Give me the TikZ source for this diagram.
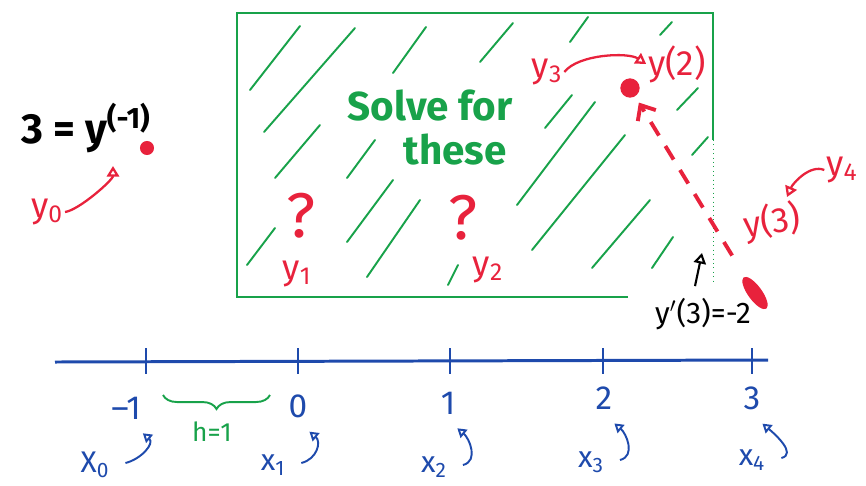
\documentclass[tikz,border=0pt]{standalone}
\usepackage{fontspec}
\setmainfont{Fira Sans}
\usetikzlibrary{positioning,arrows.meta,shapes.geometric,decorations.pathreplacing}

\definecolor{penred}{RGB}{232,34,60}
\definecolor{pengreen}{RGB}{24,162,74}
\definecolor{penblue}{RGB}{30,74,172}

\begin{document}
\begin{tikzpicture}[x=0.02cm,y=-0.02cm,
    redlab/.style={text=penred, font=\fontsize{20}{24}\selectfont, inner sep=1pt},
    bluelab/.style={text=penblue, font=\fontsize{17}{20}\selectfont, inner sep=1pt},
    hatch/.style={pengreen, line width=1.1pt, line cap=round},
    curly/.style={penblue, line width=1.1pt, -{Triangle[open,length=5pt,width=6pt]}},
    redarr/.style={penred, line width=1.3pt, -{Triangle[open,length=6pt,width=7pt]}},
    reddot/.style={circle, fill=penred, inner sep=0pt, minimum size=#1}]
  \useasboundingbox (0,0) rectangle (866,485);

  % region to solve for
  \draw[pengreen, line width=1.1pt] (628,297) -- (237,297) -- (237,13) -- (713,13) -- (713,140);
  \draw[pengreen, line width=0.5pt, dotted] (713,140) -- (713,282);
  \foreach \a/\b/\c/\d in {250/90/300/26, 264/132/355/28, 393/73/426/27, 275/178/320/125,
      347/178/375/140, 480/62/513/23, 570/42/588/17, 660/35/672/22, 545/128/572/95,
      517/205/595/102, 532/250/625/135, 592/268/650/200, 652/268/673/237, 677/110/698/88,
      692/155/708/137, 247/265/275/228, 347/242/393/180, 367/277/420/200, 448/285/458/265}
    \draw[hatch] (\a,\b) -- (\c,\d);
  \node[text=pengreen, font=\fontsize{23}{27}\selectfont\bfseries] (solve) at (430,105) {Solve for};
  \node[text=pengreen, font=\fontsize{23}{27}\selectfont\bfseries] (these) at (455,150) {these};

  % x axis
  \draw[penblue, line width=1.7pt] (55,362) -- (768,360);
  \foreach \t/\n/\nx/\ny/\l/\lx/\ly/\i in {146/--1/126/408/X/95/465/0, 298/0/298/406/x/273/465/1,
      450/1/448/403/x/434/467/2, 603/2/604/398/x/591/462/3, 752/3/752/398/x/752/460/4} {
    \draw[penblue, line width=1.3pt] (\t,348) -- (\t,374);
    \node[bluelab, font=\fontsize{19}{22}\selectfont] (num\i) at (\nx,\ny) {\n};
    \node[bluelab] (xl\i) at (\lx,\ly) {\l\textsubscript{\i}};
    \draw[curly] ([shift={(14,-2)}]xl\i.east) .. controls +(16,-4) and +(12,10) .. ([shift={(0,12)}]num\i.south east);
  }
  \draw[pengreen, line width=1.1pt, decorate, decoration={brace, mirror, amplitude=8pt}] (163,395) -- (270,395);
  \node[text=pengreen, font=\fontsize{15}{18}\selectfont] (h) at (212,432) {h=1};

  % known values
  \node[font=\fontsize{24}{28}\selectfont\bfseries, inner sep=1pt] (ym1) at (86,128) {3 = y\textsuperscript{(-1)}};
  \node[reddot=8pt] (dot0) at (147,148) {};
  \node[redlab] (y0) at (47,212) {y\textsubscript{0}};
  \coordinate (y0tip) at (113,166);
  \draw[redarr] (y0.east) .. controls +(14,-2) and +(0,14) .. (y0tip);

  \node[reddot=11pt] (dot2) at (630,88) {};
  \node[redlab] (ytwo) at (677,64) {y(2)};
  \node[redlab] (y3) at (547,72) {y\textsubscript{3}};
  \draw[redarr] (y3.east) .. controls +(14,-18) and +(-18,-12) .. (ytwo.west);

  \node[ellipse, fill=penred, inner sep=0pt, minimum width=22pt, minimum height=8pt, rotate=-54] (dot3) at (755,293) {};
  \node[redlab, rotate=8] (ythree) at (772,222) {y(3)};
  \node[redlab] (y4) at (842,170) {y\textsubscript{4}};
  \coordinate (y4tip) at (787,197);
  \draw[redarr] (y4.west) .. controls +(-14,-6) and +(6,-14) .. (y4tip);
  \draw[penred, line width=2.2pt, dash pattern=on 9pt off 7pt, shorten <=14pt, shorten >=4pt,
    -{Straight Barb[length=7pt,width=12pt]}] (dot3) -- (dot2);

  % unknowns
  \node[text=penred, font=\fontsize{36}{40}\selectfont, inner sep=0pt] (q1) at (301,216) {?};
  \node[text=penred, font=\fontsize{36}{40}\selectfont, inner sep=0pt] (q2) at (463,218) {?};
  \node[redlab] (y1) at (297,274) {y\textsubscript{1}};
  \node[redlab] (y2) at (488,270) {y\textsubscript{2}};

  % slope
  \node[font=\fontsize{17}{20}\selectfont, inner sep=1pt] (yp) at (703,314) {y$'$(3)=-2};
  \coordinate (yptip) at (702,253);
  \draw[line width=1.2pt, -{Triangle[open,length=6pt,width=7pt]}] ([shift={(-8,-10)}]yp.north) -- (yptip);
\end{tikzpicture}
\end{document}
